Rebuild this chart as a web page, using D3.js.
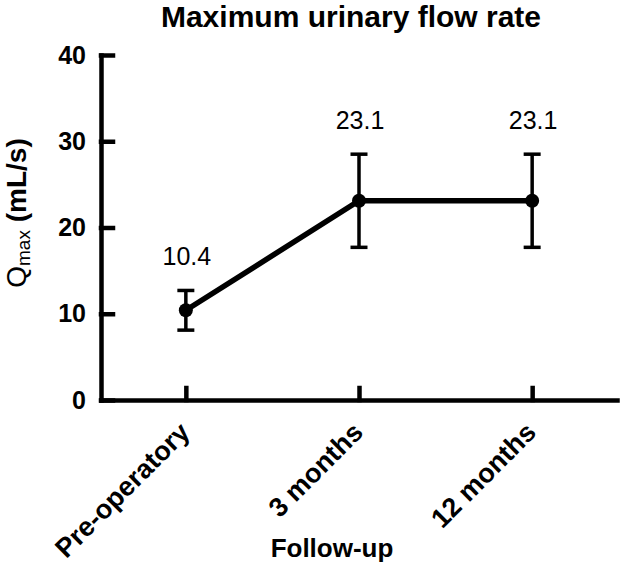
<!DOCTYPE html>
<html>
<head>
<meta charset="utf-8">
<script src="https://cdn.jsdelivr.net/npm/d3@7"></script>
<style>
  body { margin: 0; background: #fff; }
  text { font-family: "Liberation Sans", Arial, sans-serif; fill: #000; }
</style>
</head>
<body>
<div id="chart"></div>
<script>
// data
var categories = ["Pre-operatory", "3 months", "12 months"];
var meanValues = [10.4, 23.1, 23.1];
var sdValues = [2.3, 5.4, 5.4];
var valueLabels = ["10.4", "23.1", "23.1"];
var yTicks = [0, 10, 20, 30, 40];

// Define SVG area dimensions
var svgWidth = 621;
var svgHeight = 568;

var plot = { left: 101, right: 617, top: 55, bottom: 400 };

var svg = d3.select("#chart")
  .append("svg")
  .attr("width", svgWidth)
  .attr("height", svgHeight);

var data = categories.map(function(c, i) {
  return { cat: c, mean: meanValues[i], sd: sdValues[i], label: valueLabels[i] };
});

// scales
var xScale = d3.scalePoint()
  .domain(categories)
  .range([plot.left, plot.right])
  .padding(0.49);

var yScale = d3.scaleLinear()
  .domain([0, 40])
  .range([plot.bottom, plot.top]);

// y axis, ticks pointing inwards
var leftAxis = d3.axisLeft(yScale)
  .tickValues(yTicks)
  .tickSizeInner(-12)
  .tickSizeOuter(0)
  .tickPadding(15);

var yAxis = svg.append("g")
  .attr("transform", `translate(${plot.left}, 0)`)
  .call(leftAxis);

yAxis.selectAll("text")
  .style("font-size", "25px")
  .style("font-weight", "bold");

// x axis
var bottomAxis = d3.axisBottom(xScale)
  .tickSizeInner(-12)
  .tickSizeOuter(0)
  .tickPadding(0);

var xAxis = svg.append("g")
  .attr("transform", `translate(0, ${plot.bottom})`)
  .call(bottomAxis);

xAxis.selectAll("text")
  .attr("y", 0)
  .attr("dy", 0)
  .attr("text-anchor", "end")
  .attr("transform", "translate(5, 34) rotate(-45)")
  .style("font-size", "27px")
  .style("font-weight", "bold");

svg.selectAll(".domain, .tick line")
  .attr("stroke", "#000")
  .attr("stroke-width", 4.5)
  .attr("stroke-linecap", "square");

// error bars
var errGroup = svg.append("g");

errGroup.selectAll(".err")
  .data(data)
  .enter()
  .append("line")
  .attr("x1", d => xScale(d.cat))
  .attr("x2", d => xScale(d.cat))
  .attr("y1", d => yScale(d.mean - d.sd))
  .attr("y2", d => yScale(d.mean + d.sd))
  .attr("stroke", "#000")
  .attr("stroke-width", 3.5);

errGroup.selectAll(".capTop")
  .data(data)
  .enter()
  .append("line")
  .attr("x1", d => xScale(d.cat) - 8.5)
  .attr("x2", d => xScale(d.cat) + 8.5)
  .attr("y1", d => yScale(d.mean + d.sd))
  .attr("y2", d => yScale(d.mean + d.sd))
  .attr("stroke", "#000")
  .attr("stroke-width", 3.5);

errGroup.selectAll(".capBottom")
  .data(data)
  .enter()
  .append("line")
  .attr("x1", d => xScale(d.cat) - 8.5)
  .attr("x2", d => xScale(d.cat) + 8.5)
  .attr("y1", d => yScale(d.mean - d.sd))
  .attr("y2", d => yScale(d.mean - d.sd))
  .attr("stroke", "#000")
  .attr("stroke-width", 3.5);

// mean line
var line = d3.line()
  .x(d => xScale(d.cat))
  .y(d => yScale(d.mean));

svg.append("path")
  .datum(data)
  .attr("d", line)
  .attr("fill", "none")
  .attr("stroke", "#000")
  .attr("stroke-width", 5.5);

svg.selectAll("circle")
  .data(data)
  .enter()
  .append("circle")
  .attr("cx", d => xScale(d.cat))
  .attr("cy", d => yScale(d.mean))
  .attr("r", 7)
  .attr("fill", "#000");

// value labels above the error bars
svg.selectAll(".valueLabel")
  .data(data)
  .enter()
  .append("text")
  .attr("class", "valueLabel")
  .attr("x", d => xScale(d.cat) + 1)
  .attr("y", d => yScale(d.mean + d.sd) - 25)
  .attr("text-anchor", "middle")
  .style("font-size", "25px")
  .text(d => d.label);

// title
svg.append("text")
  .attr("x", 351)
  .attr("y", 27)
  .attr("text-anchor", "middle")
  .style("font-size", "30px")
  .style("font-weight", "bold")
  .text("Maximum urinary flow rate");

// x axis title
svg.append("text")
  .attr("x", 332)
  .attr("y", 557)
  .attr("text-anchor", "middle")
  .style("font-size", "26px")
  .style("font-weight", "bold")
  .text("Follow-up");

// y axis title with subscript
var yLabel = svg.append("text")
  .attr("transform", "translate(26, 213) rotate(-90)")
  .attr("text-anchor", "middle");

yLabel.append("tspan")
  .style("font-size", "28px")
  .text("Q");

yLabel.append("tspan")
  .attr("dy", 4)
  .style("font-size", "19px")
  .text("max");

yLabel.append("tspan")
  .attr("dy", -4)
  .style("font-size", "28px")
  .style("font-weight", "bold")
  .text(" (mL/s)");
</script>
</body>
</html>
